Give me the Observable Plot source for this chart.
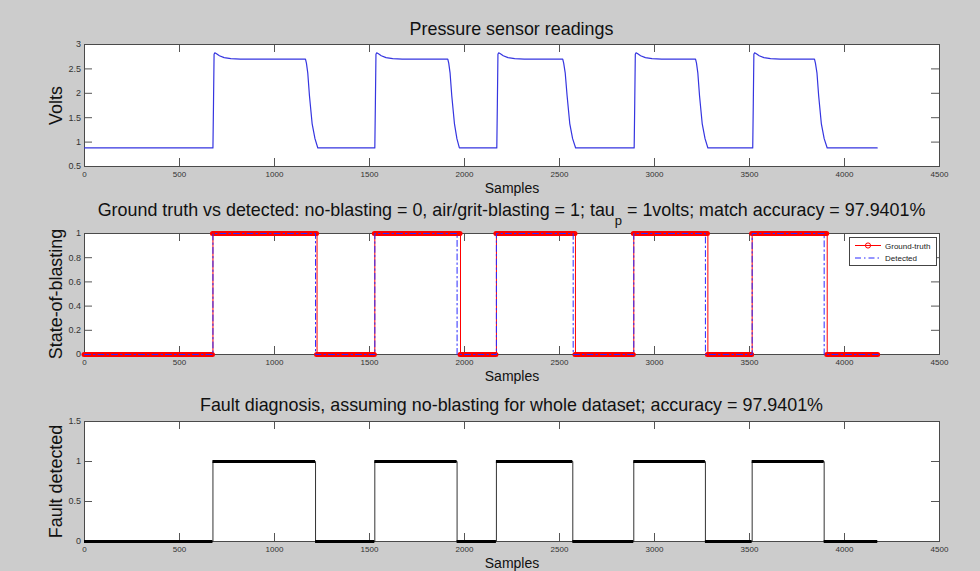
<!DOCTYPE html>
<html>
<head>
<meta charset="utf-8">
<script src="https://cdn.jsdelivr.net/npm/d3@7"></script>
<script src="https://cdn.jsdelivr.net/npm/@observablehq/plot@0.6"></script>
<style>
  body { margin: 0; background: #cccccc; }
  #fig { position: relative; width: 980px; height: 571px; overflow: hidden; background: #cccccc;
         font-family: "Liberation Sans", Arial, sans-serif; }
  .panel { position: absolute; left: 0; }
  .title { position: absolute; left: 0; width: 1023px; text-align: center; font-size: 17.9px;
           line-height: 17.9px; color: #111; white-space: nowrap; }
  .title sub { font-size: 13px; vertical-align: -9px; line-height: 0; }
  #legend { position: absolute; left: 849px; top: 237px; width: 86px; height: 27px;
            background: #fff; border: 1px solid #444; }
</style>
</head>
<body>
<div id="fig"></div>
<script>
// ---------- data ----------
const xTicks = [0, 500, 1000, 1500, 2000, 2500, 3000, 3500, 4000, 4500];
const voltTicks = [0.5, 1, 1.5, 2, 2.5, 3];
const stateTicks = [0, 0.2, 0.4, 0.6, 0.8, 1];
const faultTicks = [0, 0.5, 1, 1.5];

// pressure sensor reading (samples, volts)
const pressureSample = [
  0, 676, 679, 682, 686, 695, 710, 735, 770, 820, 1163, 1168, 1175, 1184, 1198, 1213, 1228,
  1528, 1531, 1534, 1538, 1547, 1562, 1587, 1622, 1672, 1912, 1917, 1924, 1933, 1947, 1960, 1973,
  2170, 2173, 2176, 2180, 2189, 2204, 2229, 2264, 2314, 2517, 2522, 2530, 2540, 2554, 2569, 2585,
  2893, 2896, 2899, 2903, 2912, 2927, 2952, 2987, 3037, 3216, 3221, 3228, 3237, 3251, 3266, 3281,
  3517, 3520, 3523, 3527, 3536, 3551, 3576, 3611, 3661, 3842, 3847, 3855, 3864, 3878, 3893, 3909, 4172
];
const pressureVolts = [
  0.88, 0.88, 1.80, 2.80, 2.83, 2.81, 2.77, 2.73, 2.71, 2.70, 2.70, 2.62, 2.42, 1.95, 1.38, 1.07, 0.88,
  0.88, 1.80, 2.80, 2.83, 2.81, 2.77, 2.73, 2.71, 2.70, 2.70, 2.62, 2.42, 1.95, 1.38, 1.07, 0.88,
  0.88, 1.80, 2.80, 2.83, 2.81, 2.77, 2.73, 2.71, 2.70, 2.70, 2.62, 2.42, 1.95, 1.38, 1.07, 0.88,
  0.88, 1.80, 2.80, 2.83, 2.81, 2.77, 2.73, 2.71, 2.70, 2.70, 2.62, 2.42, 1.95, 1.38, 1.07, 0.88,
  0.88, 1.80, 2.80, 2.83, 2.81, 2.77, 2.73, 2.71, 2.70, 2.70, 2.62, 2.42, 1.95, 1.38, 1.07, 0.88, 0.88
];

// state change points (sample where a new state starts) and state values
const truthSample = [0, 676, 1224, 1528, 1979, 2168, 2584, 2891, 3281, 3514, 3909, 4177];
const truthState  = [0, 1, 0, 1, 0, 1, 0, 1, 0, 1, 0, 0];
const detectSample = [0, 676, 1216, 1528, 1961, 2168, 2572, 2891, 3268, 3514, 3893, 4177];
const detectState  = [0, 1, 0, 1, 0, 1, 0, 1, 0, 1, 0, 0];
const faultSample = [0, 676, 1216, 1528, 1961, 2168, 2570, 2891, 3268, 3514, 3893, 4175];
const faultState  = [0, 1, 0, 1, 0, 1, 0, 1, 0, 1, 0, 0];

const seriesNames = ["Ground-truth", "Detected"];
const titles = [
  "Pressure sensor readings",
  "Ground truth vs detected: no-blasting = 0, air/grit-blasting = 1; tau<sub>p</sub> = 1volts; match accuracy = 97.9401%",
  "Fault diagnosis, assuming no-blasting for whole dataset; accuracy = 97.9401%"
];
const yLabels = ["Volts", "State-of-blasting", "Fault detected"];
const xLabel = "Samples";

// ---------- helpers ----------
const pts = (xs, ys) => xs.map((x, i) => ({x, y: ys[i]}));
const runs = (xs, ys) => xs.slice(0, -1).map((x, i) => ({x1: x, x2: xs[i + 1], y: ys[i]}));

const W = 980, ML = 84, MR = 41;
const FONT = "'Liberation Sans', Arial, sans-serif";

function panel({height, top, bottom, yDomain, yTicks, ylabel, marks}) {
  const fh = height - top - bottom, fw = W - ML - MR;
  return Plot.plot({
    width: W, height,
    marginLeft: ML, marginRight: MR, marginTop: top, marginBottom: bottom,
    style: {background: "transparent", fontFamily: FONT, overflow: "visible", color: "#222"},
    x: {domain: [0, 4500]},
    y: {domain: yDomain},
    marks: [
      Plot.frame({fill: "white", stroke: null}),
      Plot.ruleX(xTicks, {stroke: "#555", insetTop: fh - 8}),
      Plot.ruleX(xTicks, {stroke: "#555", insetBottom: fh - 8}),
      Plot.ruleY(yTicks, {stroke: "#555", insetRight: fw - 8}),
      Plot.ruleY(yTicks, {stroke: "#555", insetLeft: fw - 8}),
      Plot.frame({stroke: "#4a4a4a"}),
      Plot.axisX(xTicks, {tickSize: 0, tickPadding: 4.5, fontSize: 8, tickFormat: d => String(d), label: null, fill: "#333"}),
      Plot.axisY(yTicks, {tickSize: 0, tickPadding: 3.5, fontSize: 9, tickFormat: d => String(d), label: null, fill: "#333"}),
      Plot.text([xLabel], {text: d => d, frameAnchor: "bottom", dy: 26, lineAnchor: "bottom", fontSize: 14, fill: "#111"}),
      Plot.text([ylabel], {text: d => d, frameAnchor: "left", textAnchor: "middle", rotate: -90, dx: -22.3, lineAnchor: "bottom", fontSize: 17.9, fill: "#111"}),
      ...marks
    ]
  });
}

const fig = document.getElementById("fig");

const p1 = panel({
  height: 190, top: 44, bottom: 24, yDomain: [0.5, 3], yTicks: voltTicks, ylabel: yLabels[0],
  marks: [
    Plot.line(pts(pressureSample, pressureVolts), {x: "x", y: "y", stroke: "#3535e0", strokeWidth: 1.2})
  ]
});
const p2 = panel({
  height: 190, top: 43, bottom: 26, yDomain: [0, 1], yTicks: stateTicks, ylabel: yLabels[1],
  marks: [
    Plot.ruleY(runs(truthSample, truthState), {x1: "x1", x2: "x2", y: "y", stroke: "#ff0000", strokeWidth: 5, strokeLinecap: "round"}),
    Plot.line(pts(truthSample, truthState), {x: "x", y: "y", curve: "step-after", stroke: "#ff0000", strokeWidth: 1}),
    Plot.line(pts(detectSample, detectState), {x: "x", y: "y", curve: "step-after", stroke: "#2a2aff", strokeWidth: 1, strokeDasharray: "6,3,1.5,3"})
  ]
});
const p3 = panel({
  height: 191, top: 41, bottom: 30, yDomain: [0, 1.5], yTicks: faultTicks, ylabel: yLabels[2],
  marks: [
    Plot.line(pts(faultSample, faultState), {x: "x", y: "y", curve: "step-after", stroke: "#333", strokeWidth: 1}),
    Plot.ruleY(runs(faultSample, faultState), {x1: "x1", x2: "x2", y: "y", stroke: "#000", strokeWidth: 3})
  ]
});

[[p1, 0], [p2, 190], [p3, 380]].forEach(([svg, t]) => {
  svg.classList.add("panel");
  svg.style.top = t + "px";
  fig.appendChild(svg);
});

// titles
[[titles[0], 20.5], [titles[1], 201.5], [titles[2], 396.5]].forEach(([txt, t]) => {
  const d = document.createElement("div");
  d.className = "title";
  d.style.top = t + "px";
  d.innerHTML = txt;
  fig.appendChild(d);
});

// legend
const leg = document.createElement("div");
leg.id = "legend";
leg.innerHTML = `
<svg width="86" height="27" style="display:block;font-family:${FONT}">
  <line x1="5" x2="31" y1="7.5" y2="7.5" stroke="#ff0000" stroke-width="1"/>
  <circle cx="18" cy="7.5" r="2.6" fill="none" stroke="#ff0000" stroke-width="1"/>
  <text x="35" y="10.5" font-size="8" fill="#222">${seriesNames[0]}</text>
  <line x1="5" x2="31" y1="20" y2="20" stroke="#2a2aff" stroke-width="1" stroke-dasharray="6,3,1.5,3"/>
  <text x="35" y="23" font-size="8" fill="#222">${seriesNames[1]}</text>
</svg>`;
fig.appendChild(leg);
</script>
</body>
</html>
